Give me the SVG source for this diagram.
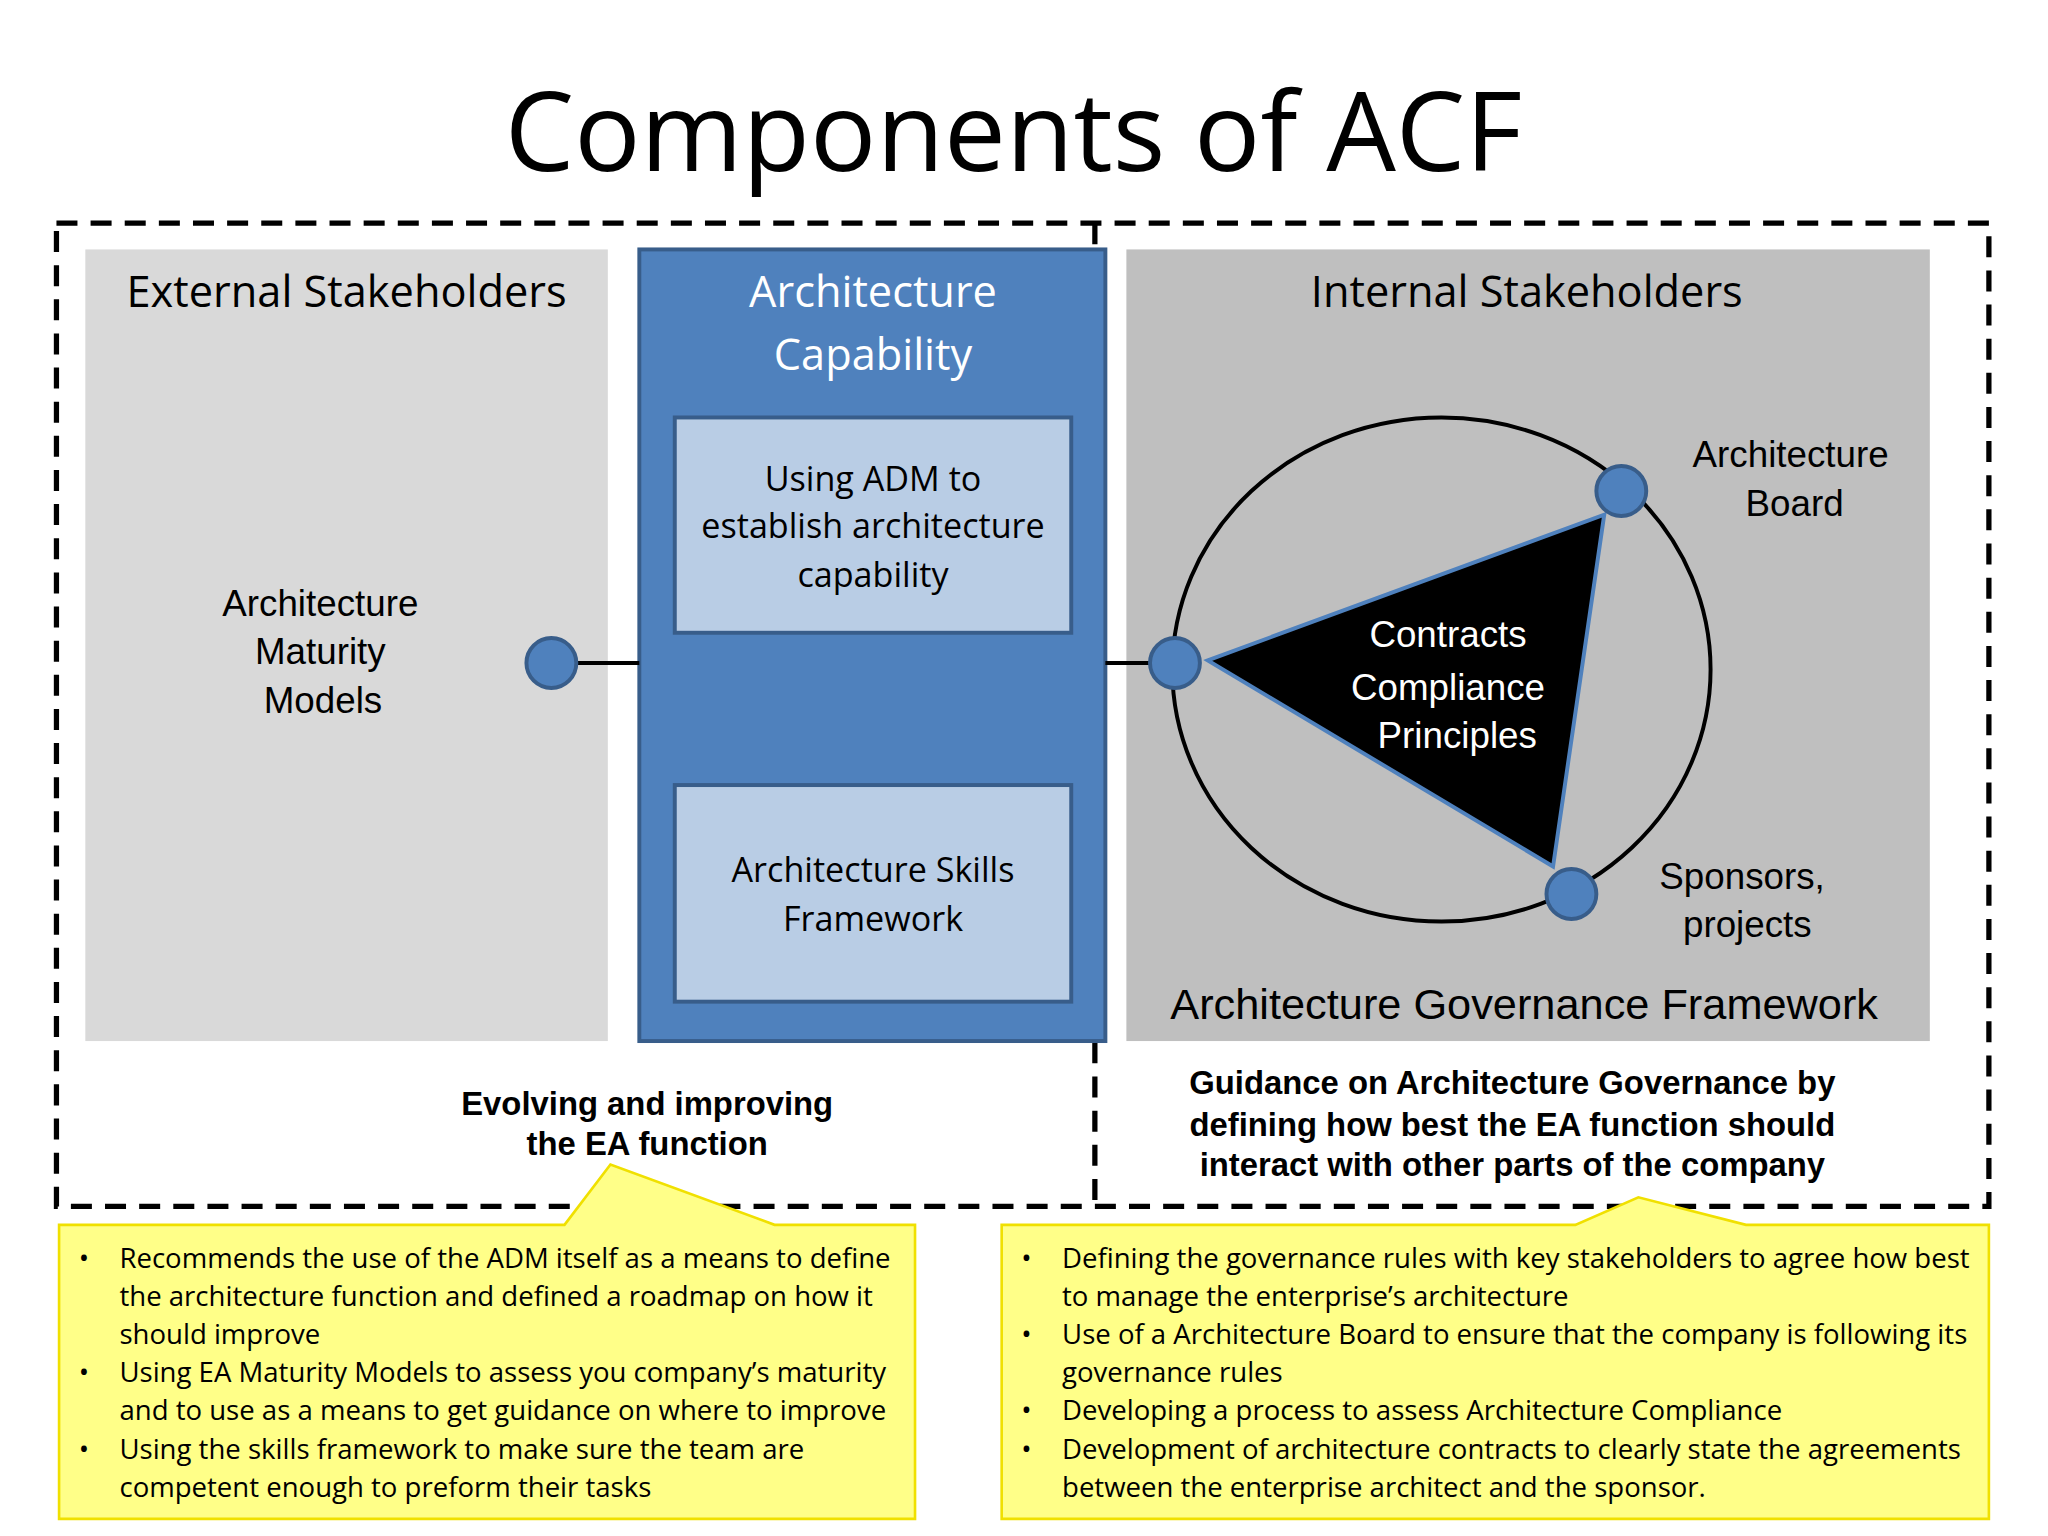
<svg xmlns="http://www.w3.org/2000/svg" width="2048" height="1536" viewBox="0 0 2048 1536">
<style>
.c{font-family:"Open Sans","Liberation Sans",sans-serif}
.a{font-family:"Liberation Sans",Arial,sans-serif}
.n{fill:#4f81bd;stroke:#385d8a;stroke-width:3}
.ib{fill:#b9cde5;stroke:#385d8a;stroke-width:3}
.y{fill:#ffff88;stroke:#f0e000;stroke-width:2}
</style>
<rect width="2048" height="1536" fill="#fff"/>
<g transform="scale(1.3128)">
<text class="c" x="772" y="130" font-size="84" text-anchor="middle">Components of ACF</text>
<g id="frame" fill="none" stroke="#000" stroke-width="4" stroke-dasharray="16,10">
<rect x="43" y="170" width="1472" height="749"/>
<line x1="834" y1="170" x2="834" y2="919"/>
</g>
<g id="external">
<rect x="65" y="190" width="398" height="603" fill="#d9d9d9"/>
<text class="c" x="264" y="234" font-size="33" text-anchor="middle">External Stakeholders</text>
<text class="a" font-size="28" text-anchor="middle"><tspan x="244" y="469">Architecture</tspan><tspan x="244" y="506">Maturity</tspan><tspan x="246" y="543">Models</tspan></text>
</g>
<g id="capability">
<rect x="487" y="190" width="355" height="603" fill="#4f81bd" stroke="#385d8a" stroke-width="3"/>
<text class="c" font-size="33" fill="#fff" text-anchor="middle"><tspan x="665" y="234">Architecture</tspan><tspan x="665" y="282">Capability</tspan></text>
</g>
<g id="adm"><rect class="ib" x="514" y="318" width="302" height="164"/>
<text class="c" font-size="26" text-anchor="middle"><tspan x="665" y="374">Using ADM to</tspan><tspan x="665" y="410">establish architecture</tspan><tspan x="665" y="447">capability</tspan></text></g>
<g id="skills"><rect class="ib" x="514" y="598" width="302" height="165"/>
<text class="c" font-size="26" text-anchor="middle"><tspan x="665" y="672">Architecture Skills</tspan><tspan x="665" y="709">Framework</tspan></text></g>
<g id="internal">
<rect x="858" y="190" width="612" height="603" fill="#bfbfbf"/>
<text class="c" x="1163" y="234" font-size="33" text-anchor="middle">Internal Stakeholders</text>
<text class="a" x="1161" y="776" font-size="33" text-anchor="middle">Architecture Governance Framework</text>
<ellipse cx="1098" cy="510" rx="205" ry="192" fill="none" stroke="#000" stroke-width="3"/>
<polygon points="920,503 1222,392 1183,660" fill="#000" stroke="#4f81bd" stroke-width="3"/>
<text class="a" font-size="28" fill="#fff" text-anchor="middle"><tspan x="1103" y="493">Contracts</tspan><tspan x="1103" y="533">Compliance</tspan><tspan x="1110" y="570">Principles</tspan></text>
<text class="a" font-size="28" text-anchor="middle"><tspan x="1364" y="356">Architecture</tspan><tspan x="1367" y="393">Board</tspan><tspan x="1327" y="677">Sponsors,</tspan><tspan x="1331" y="714">projects</tspan></text>
</g>
<g id="connectors" stroke="#000" stroke-width="3">
<line x1="438" y1="505" x2="487" y2="505"/>
<line x1="842" y1="505" x2="877" y2="505"/>
</g>
<g id="nodes">
<circle class="n" cx="420" cy="505" r="19"/>
<circle class="n" cx="895" cy="505" r="19"/>
<circle class="n" cx="1235" cy="374" r="19"/>
<circle class="n" cx="1197" cy="681" r="19"/>
</g>
<g id="labels" class="a" font-size="25" font-weight="bold" text-anchor="middle">
<text><tspan x="493" y="849">Evolving and improving</tspan><tspan x="493" y="880">the EA function</tspan></text>
<text><tspan x="1152" y="833">Guidance on Architecture Governance by</tspan><tspan x="1152" y="865">defining how best the EA function should</tspan><tspan x="1152" y="896">interact with other parts of the company</tspan></text>
</g>
<g id="callout-left">
<path class="y" d="M45,933 H430 L465,887 L590,933 H697 V1157 H45 Z"/>
<text class="c" font-size="21"><tspan x="60" y="966">•</tspan><tspan x="91" y="966">Recommends the use of the ADM itself as a means to define</tspan><tspan x="91" y="995">the architecture function and defined a roadmap on how it</tspan><tspan x="91" y="1024">should improve</tspan><tspan x="60" y="1053">•</tspan><tspan x="91" y="1053">Using EA Maturity Models to assess you company’s maturity</tspan><tspan x="91" y="1082">and to use as a means to get guidance on where to improve</tspan><tspan x="60" y="1111">•</tspan><tspan x="91" y="1111">Using the skills framework to make sure the team are</tspan><tspan x="91" y="1140">competent enough to preform their tasks</tspan></text>
</g>
<g id="callout-right">
<path class="y" d="M763,933 H1200 L1248,912 L1330,933 H1515 V1157 H763 Z"/>
<text class="c" font-size="21"><tspan x="778" y="966">•</tspan><tspan x="809" y="966">Defining the governance rules with key stakeholders to agree how best</tspan><tspan x="809" y="995">to manage the enterprise’s architecture</tspan><tspan x="778" y="1024">•</tspan><tspan x="809" y="1024">Use of a Architecture Board to ensure that the company is following its</tspan><tspan x="809" y="1053">governance rules</tspan><tspan x="778" y="1082">•</tspan><tspan x="809" y="1082">Developing a process to assess Architecture Compliance</tspan><tspan x="778" y="1111">•</tspan><tspan x="809" y="1111">Development of architecture contracts to clearly state the agreements</tspan><tspan x="809" y="1140">between the enterprise architect and the sponsor.</tspan></text>
</g>
</g>
</svg>
